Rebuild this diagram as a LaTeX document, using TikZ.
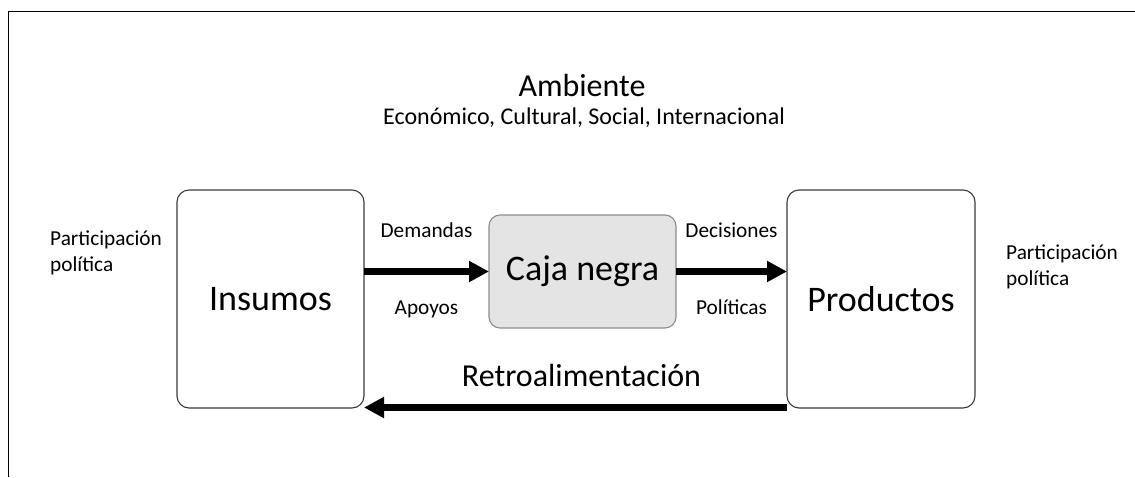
\documentclass[tikz,border=0pt]{standalone}
\usepackage{fontspec}
\setmainfont{Carlito}
\usepackage{tikz}
\usetikzlibrary{arrows.meta,positioning,calc}
\definecolor{cajagris}{HTML}{E4E4E4}
\definecolor{cajaborde}{HTML}{8C8C8C}
\definecolor{bordeoscuro}{HTML}{3A3A3A}
\tikzstyle{connector} = [line width=7.5pt,-{Triangle[length=20pt,width=20pt]}]
\tikzstyle{bloque} = [rectangle, rounded corners=12pt, draw=bordeoscuro, line width=1.1pt, outer sep=0pt, inner sep=0pt]
\newcommand{\tamgrande}{\fontsize{36}{43}\selectfont}
\newcommand{\tammedio}{\fontsize{32}{38}\selectfont}
\newcommand{\tamsub}{\fontsize{24}{29}\selectfont}
\newcommand{\tampeq}{\fontsize{21.3}{25.5}\selectfont}

\begin{document}
\begin{tikzpicture}[x=1pt,y=-1pt,every node/.style={inner sep=0pt}]
        \useasboundingbox (0,0) rectangle (1135,477);
        \draw [line width=1.4pt] (8.5,477) -- (8.5,11.7) -- (1135,11.7);
        \node (insumos) at (270.5,299) [bloque, minimum width=187pt, minimum height=218pt, font=\tamgrande] {Insumos};
        \node (caja) at (582.5,271.5) [bloque, draw=cajaborde, fill=cajagris, rounded corners=11pt, minimum width=187pt, minimum height=113pt, font=\tamgrande] {Caja negra};
        \node (productos) at (881,299) [bloque, minimum width=188pt, minimum height=218pt, font=\tamgrande] {Productos};
        \node (ambiente) at (582,96) [anchor=base, font=\tammedio] {Ambiente};
        \node (entorno) at (ambiente.base) [anchor=base, xshift=2pt, yshift=-28pt, font=\tamsub] {Económico, Cultural, Social, Internacional};
        \node (label-1) at (50,271) [anchor=base west, align=left, font=\tampeq] {Participación\\política};
        \node (label-2) at (1006,285) [anchor=base west, align=left, font=\tampeq] {Participación\\política};
        \draw [connector] (caja.west -| insumos.east) -- node[anchor=base, yshift=34pt, font=\tampeq] {Demandas}
                                                     node[anchor=base, yshift=-42.5pt, font=\tampeq] {Apoyos}
                            (caja.west);
        \draw [connector] (caja.east) -- node[anchor=base, yshift=34pt, font=\tampeq] {Decisiones}
                                         node[anchor=base, yshift=-42.5pt, font=\tampeq] {Políticas}
                            (caja.east -| productos.west);
        \draw [connector] ([yshift=0.5pt]productos.south west) -- node[anchor=base, xshift=6pt, yshift=21pt, font=\tammedio] {Retroalimentación}
                            ([yshift=0.5pt]insumos.south east);
    \end{tikzpicture}
\end{document}
